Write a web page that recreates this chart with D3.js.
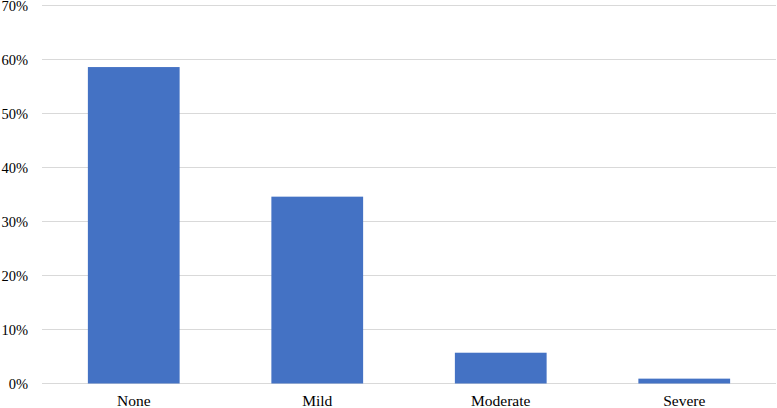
<!DOCTYPE html>
<html>
<head>
<meta charset="utf-8">
<script src="https://cdn.jsdelivr.net/npm/d3@7"></script>
<style>
  body { margin: 0; background: #fff; }
</style>
</head>
<body>
<svg id="chart" width="777" height="408"></svg>
<script>
const categories = ['None', 'Mild', 'Moderate', 'Severe'];
const values = [58.6, 34.6, 5.7, 0.9];
const yTicks = [0, 10, 20, 30, 40, 50, 60, 70];

const FONT = "'Liberation Serif', 'Times New Roman', serif";

const svg = d3.select('#chart');
const margin = { top: 5.5, right: 1, bottom: 24.5, left: 42 };
const width = 777, height = 408;

const x = d3.scaleBand()
  .domain(categories)
  .range([margin.left, width - margin.right])
  .paddingInner(0.5)
  .paddingOuter(0.25);

const y = d3.scaleLinear()
  .domain([0, 70])
  .range([height - margin.bottom, margin.top]);

// gridlines
svg.append('g')
  .selectAll('line')
  .data(yTicks)
  .join('line')
    .attr('x1', margin.left)
    .attr('x2', width - margin.right)
    .attr('y1', d => y(d))
    .attr('y2', d => y(d))
    .attr('stroke', '#d9d9d9')
    .attr('stroke-width', 1);

// y labels
svg.append('g')
  .selectAll('text')
  .data(yTicks)
  .join('text')
    .attr('x', 28)
    .attr('y', d => y(d))
    .attr('dy', '0.38em')
    .attr('text-anchor', 'end')
    .attr('font-family', FONT)
    .attr('font-size', 14.5)
    .attr('fill', '#000')
    .text(d => d + '%');

// bars
svg.append('g')
  .selectAll('rect')
  .data(values)
  .join('rect')
    .attr('x', (d, i) => x(categories[i]))
    .attr('y', d => y(d))
    .attr('width', x.bandwidth())
    .attr('height', d => y(0) - y(d))
    .attr('fill', '#4472C4');

// x labels
svg.append('g')
  .selectAll('text')
  .data(categories)
  .join('text')
    .attr('x', d => x(d) + x.bandwidth() / 2)
    .attr('y', 406)
    .attr('text-anchor', 'middle')
    .attr('font-family', FONT)
    .attr('font-size', 15.5)
    .attr('fill', '#000')
    .text(d => d);
</script>
</body>
</html>
